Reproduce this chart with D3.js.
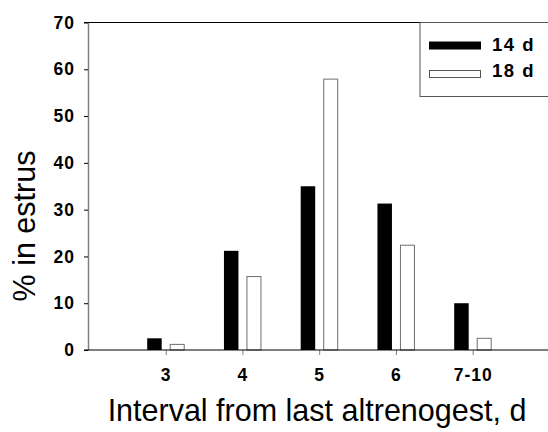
<!DOCTYPE html>
<html>
<head>
<meta charset="utf-8">
<script src="https://cdn.jsdelivr.net/npm/d3@7"></script>
<style>
  body { margin: 0; background: #fff; }
  svg { display: block; font-family: Arial, "Liberation Sans", sans-serif; }
</style>
</head>
<body>
<svg id="chart" width="548" height="432"></svg>
<script>
// data
const categories = ["3", "4", "5", "6", "7-10"];
const series14 = [2.5, 21.2, 35.0, 31.3, 10.0];
const series18 = [1.2, 15.7, 57.9, 22.4, 2.5];
const yTicks = [0, 10, 20, 30, 40, 50, 60, 70];
const legendLabels = ["14 d", "18 d"];

const svg = d3.select("#chart");

const plotLeft = 88, plotRight = 548, plotTop = 22.5, plotBottom = 350;

const x = d3.scalePoint()
    .domain(categories)
    .range([165.7, 472.7]);

const y = d3.scaleLinear()
    .domain([0, 70])
    .range([plotBottom, plotTop]);

// top frame line
svg.append("line")
    .attr("x1", plotLeft - 4).attr("x2", plotRight)
    .attr("y1", plotTop).attr("y2", plotTop)
    .attr("stroke", "#000").attr("stroke-width", 1);

// y axis
const yAxis = svg.append("g")
    .attr("transform", `translate(${plotLeft},0)`)
    .call(d3.axisLeft(y).tickValues(yTicks).tickSize(4).tickPadding(9).tickSizeOuter(0));
yAxis.select(".domain").attr("stroke", "#808080").attr("stroke-width", 1.5);
yAxis.selectAll(".tick line").attr("stroke", "#000");
yAxis.selectAll("text")
    .attr("font-size", 17.5).attr("font-weight", "bold")
    .attr("letter-spacing", 1)
    .attr("font-family", "Arial, 'Liberation Sans', sans-serif")
    .attr("fill", "#000");

// x axis
const xAxis = svg.append("g")
    .attr("transform", `translate(0,${plotBottom})`)
    .call(d3.axisBottom(x).tickSize(5).tickPadding(14).tickSizeOuter(0));
xAxis.select(".domain").remove();
xAxis.selectAll(".tick line").attr("stroke", "#808080");
xAxis.selectAll("text")
    .attr("font-size", 17.5).attr("font-weight", "bold")
    .attr("letter-spacing", 1)
    .attr("font-family", "Arial, 'Liberation Sans', sans-serif")
    .attr("fill", "#000");

// bars
const bw = 14.5;
svg.append("g").selectAll("rect")
    .data(categories)
    .join("rect")
    .attr("x", d => x(d) - 4 - bw)
    .attr("y", (d, i) => y(series14[i]))
    .attr("width", bw)
    .attr("height", (d, i) => y(0) - y(series14[i]))
    .attr("fill", "#000");

svg.append("g").selectAll("rect")
    .data(categories)
    .join("rect")
    .attr("x", d => x(d) + 4.5)
    .attr("y", (d, i) => y(series18[i]))
    .attr("width", bw - 0.5)
    .attr("height", (d, i) => y(0) - y(series18[i]))
    .attr("fill", "#fff")
    .attr("stroke", "#707070")
    .attr("stroke-width", 1);

// x axis line drawn over the bars
svg.append("line")
    .attr("x1", plotLeft - 4).attr("x2", plotRight)
    .attr("y1", plotBottom).attr("y2", plotBottom)
    .attr("stroke", "#000").attr("stroke-width", 1.2);

// legend
const lg = svg.append("g");
lg.append("rect")
    .attr("x", 420).attr("y", plotTop)
    .attr("width", 140).attr("height", 74)
    .attr("fill", "#fff").attr("stroke", "#555").attr("stroke-width", 1);
lg.append("rect")
    .attr("x", 429).attr("y", 41.5).attr("width", 52).attr("height", 8)
    .attr("fill", "#000");
lg.append("rect")
    .attr("x", 429.5).attr("y", 70.5).attr("width", 51).attr("height", 7)
    .attr("fill", "#fff").attr("stroke", "#555").attr("stroke-width", 1);
lg.selectAll("text")
    .data(legendLabels)
    .join("text")
    .attr("x", 492)
    .attr("y", (d, i) => 50.7 + i * 26.2)
    .attr("font-size", 18.5).attr("font-weight", "bold")
    .attr("letter-spacing", 1.5)
    .text(d => d);

// axis titles
svg.append("text")
    .attr("x", 317).attr("y", 421)
    .attr("text-anchor", "middle")
    .attr("font-size", 30.5)
    .text("Interval from last altrenogest, d");

svg.append("text")
    .attr("transform", "translate(35,226) rotate(-90)")
    .attr("text-anchor", "middle")
    .attr("font-size", 30.5)
    .text("% in estrus");
</script>
</body>
</html>
